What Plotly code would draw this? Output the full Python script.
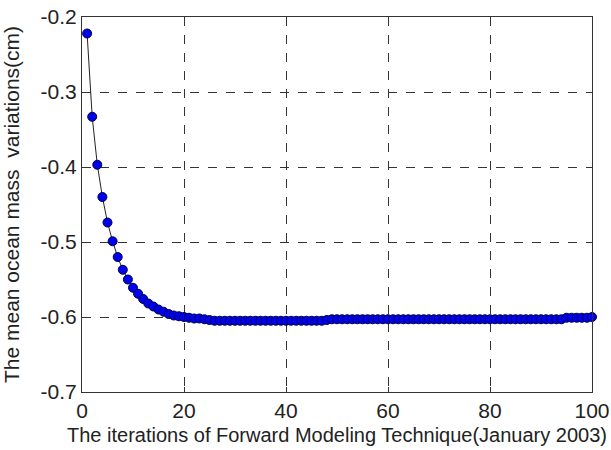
import plotly.graph_objects as go

iterations = list(range(1, 101))
ocean_mass = [
    -0.222, -0.333, -0.397, -0.440, -0.474, -0.499, -0.520, -0.537, -0.550, -0.561,
    -0.569, -0.576, -0.582, -0.586, -0.590, -0.593, -0.596, -0.598, -0.599, -0.600,
    -0.601, -0.602, -0.602, -0.603, -0.604, -0.605, -0.605, -0.605, -0.605, -0.605,
    -0.605, -0.605, -0.605, -0.605, -0.605, -0.605, -0.605, -0.605, -0.605, -0.605,
    -0.605, -0.605, -0.605, -0.605, -0.605, -0.605, -0.605, -0.604, -0.603, -0.603,
    -0.603, -0.603, -0.603, -0.603, -0.603, -0.603, -0.603, -0.603, -0.603, -0.603,
    -0.603, -0.603, -0.603, -0.603, -0.603, -0.603, -0.603, -0.603, -0.603, -0.603,
    -0.603, -0.603, -0.603, -0.603, -0.603, -0.603, -0.603, -0.603, -0.603, -0.603,
    -0.603, -0.603, -0.603, -0.603, -0.603, -0.603, -0.603, -0.603, -0.603, -0.603,
    -0.603, -0.603, -0.603, -0.603, -0.601, -0.601, -0.601, -0.601, -0.601, -0.600,
]
x_ticks = [0, 20, 40, 60, 80, 100]
y_ticks = [-0.7, -0.6, -0.5, -0.4, -0.3, -0.2]
y_tick_labels = ["-0.7", "-0.6", "-0.5", "-0.4", "-0.3", "-0.2"]

font = "Liberation Sans, Arial, sans-serif"

fig = go.Figure()
fig.add_trace(go.Scatter(
    x=iterations, y=ocean_mass, mode="lines+markers",
    line=dict(color="#222222", width=1),
    marker=dict(size=9, color="#0000f0", line=dict(color="#000040", width=1)),
    showlegend=False, cliponaxis=False,
))

axis_common = dict(
    showline=True, linecolor="#333333", linewidth=1, mirror=True,
    showgrid=True, gridcolor="#333333", griddash="dash", gridwidth=1,
    zeroline=False, ticks="inside", ticklen=5, tickcolor="#333333",
    tickfont=dict(family=font, size=21, color="#222222"),
    automargin=False, ticklabeloverflow="allow",
)

fig.update_xaxes(range=[0, 100], tickvals=x_ticks, ticklabelstandoff=0,
                 title=dict(text="The iterations of Forward Modeling Technique(January 2003)",
                            font=dict(family=font, size=20, color="#222222"), standoff=6),
                 **axis_common)
fig.update_yaxes(range=[-0.7, -0.2], tickvals=y_ticks, ticktext=y_tick_labels,
                 title=dict(text="The mean ocean mass  variations(cm)",
                            font=dict(family=font, size=21, color="#222222"), standoff=16),
                 **axis_common)

fig.update_layout(
    width=611, height=450,
    margin=dict(l=82, r=19, t=17, b=58),
    paper_bgcolor="white", plot_bgcolor="white",
)

# remove the default body margin so the figure sits at the top-left corner of the page
fig.write_html("out.html", config={"displayModeBar": False},
               post_script="document.body.style.margin='0px';")
